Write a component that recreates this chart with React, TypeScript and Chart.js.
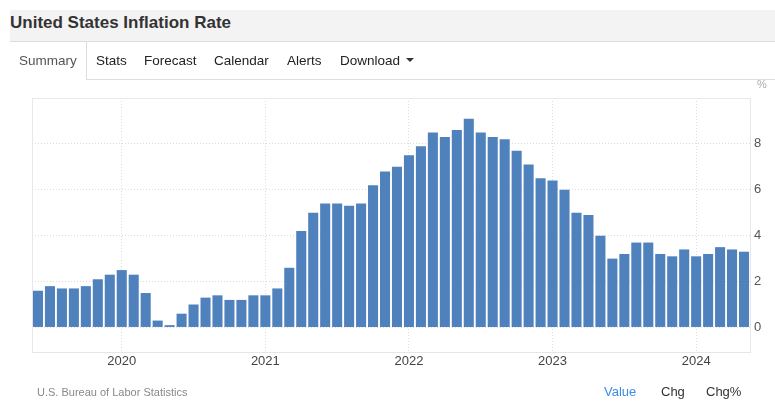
import React, { useEffect, useRef } from 'react';
import { Chart, registerables } from 'chart.js';

Chart.register(...registerables);

const months = [
  'Jun 2019', 'Jul 2019', 'Aug 2019', 'Sep 2019', 'Oct 2019', 'Nov 2019', 'Dec 2019',
  'Jan 2020', 'Feb 2020', 'Mar 2020', 'Apr 2020', 'May 2020', 'Jun 2020', 'Jul 2020', 'Aug 2020', 'Sep 2020', 'Oct 2020', 'Nov 2020', 'Dec 2020',
  'Jan 2021', 'Feb 2021', 'Mar 2021', 'Apr 2021', 'May 2021', 'Jun 2021', 'Jul 2021', 'Aug 2021', 'Sep 2021', 'Oct 2021', 'Nov 2021', 'Dec 2021',
  'Jan 2022', 'Feb 2022', 'Mar 2022', 'Apr 2022', 'May 2022', 'Jun 2022', 'Jul 2022', 'Aug 2022', 'Sep 2022', 'Oct 2022', 'Nov 2022', 'Dec 2022',
  'Jan 2023', 'Feb 2023', 'Mar 2023', 'Apr 2023', 'May 2023', 'Jun 2023', 'Jul 2023', 'Aug 2023', 'Sep 2023', 'Oct 2023', 'Nov 2023', 'Dec 2023',
  'Jan 2024', 'Feb 2024', 'Mar 2024', 'Apr 2024', 'May 2024',
];

const inflation = [
  1.6, 1.8, 1.7, 1.7, 1.8, 2.1, 2.3,
  2.5, 2.3, 1.5, 0.3, 0.1, 0.6, 1.0, 1.3, 1.4, 1.2, 1.2, 1.4,
  1.4, 1.7, 2.6, 4.2, 5.0, 5.4, 5.4, 5.3, 5.4, 6.2, 6.8, 7.0,
  7.5, 7.9, 8.5, 8.3, 8.6, 9.1, 8.5, 8.3, 8.2, 7.7, 7.1, 6.5,
  6.4, 6.0, 5.0, 4.9, 4.0, 3.0, 3.2, 3.7, 3.7, 3.2, 3.1, 3.4,
  3.1, 3.2, 3.5, 3.4, 3.3,
];

const yTickValues = [0, 2, 4, 6, 8, 10];
const yMin = -1.07;
const yMax = 10;

const tabs = ['Summary', 'Stats', 'Forecast', 'Calendar', 'Alerts', 'Download'];
const tabX = [19, 96, 144, 214, 287, 340];
const footerLinks = ['Value', 'Chg', 'Chg%'];
const footerX = [604, 661, 706];

const FONT = "Arial, 'Liberation Sans', Helvetica, sans-serif";

const framePlugin = {
  id: 'frame',
  beforeDatasetsDraw(chart: any) {
    const { ctx, chartArea } = chart;
    const { left, top, right, bottom } = chartArea;
    ctx.save();
    ctx.strokeStyle = '#e8e8e8';
    ctx.lineWidth = 1;
    ctx.beginPath();
    ctx.moveTo(Math.round(left) + 0.5, Math.round(bottom));
    ctx.lineTo(Math.round(left) + 0.5, Math.round(top) + 0.5);
    ctx.lineTo(Math.round(right), Math.round(top) + 0.5);
    ctx.stroke();
    ctx.restore();
  },
};

export default function App() {
  const canvasRef = useRef<HTMLCanvasElement | null>(null);

  useEffect(() => {
    if (!canvasRef.current) return;
    const janIdx = months
      .map((m, i) => (m.startsWith('Jan') ? i : -1))
      .filter((i) => i >= 0);
    const chart = new Chart(canvasRef.current, {
      type: 'bar',
      data: {
        datasets: [
          {
            data: inflation.map((v, i) => ({ x: i, y: v })),
            backgroundColor: '#4f81bd',
            borderWidth: 0,
            barPercentage: 0.84,
            categoryPercentage: 1,
          },
        ],
      },
      options: {
        responsive: false,
        animation: false,
        events: [],
        layout: { padding: { left: 32, top: 98, right: 0, bottom: 29 } },
        plugins: {
          legend: { display: false },
          tooltip: { enabled: false },
          title: { display: false },
        },
        scales: {
          x: {
            type: 'linear',
            offset: false,
            min: -0.5,
            max: months.length - 0.5,
            afterBuildTicks: (scale: any) => {
              scale.ticks = janIdx.map((i) => ({ value: i }));
            },
            afterFit: (scale: any) => {
              scale.height = 20;
            },
            ticks: {
              autoSkip: false,
              maxRotation: 0,
              padding: 2,
              color: '#444',
              font: { family: FONT, size: 13 },
              callback: (v: any) => {
                const m = months[Math.round(Number(v))];
                return m ? m.split(' ')[1] : '';
              },
            },
            grid: {
              offset: false,
              drawTicks: false,
              color: '#dcdcdc',
            },
            border: { display: true, color: '#e6e6e6', dash: [1, 2] },
          },
          y: {
            type: 'linear',
            position: 'right',
            min: yMin,
            max: yMax,
            afterBuildTicks: (scale: any) => {
              scale.ticks = yTickValues.map((v) => ({ value: v }));
            },
            afterFit: (scale: any) => {
              scale.width = 25;
            },
            ticks: {
              padding: 4,
              color: '#555',
              font: { family: FONT, size: 13 },
              callback: (v: any) => (Number(v) === yMax ? '' : String(v)),
            },
            grid: {
              drawTicks: false,
              color: '#dcdcdc',
            },
            border: { display: true, color: '#e6e6e6', dash: [1, 2] },
          },
        },
      },
      plugins: [framePlugin],
    } as any);
    return () => chart.destroy();
  }, []);

  const textBase: React.CSSProperties = {
    position: 'absolute',
    fontFamily: FONT,
    lineHeight: 1,
    whiteSpace: 'nowrap',
  };

  return (
    <div
      style={{
        position: 'fixed',
        left: 0,
        top: 0,
        width: 775,
        height: 401,
        background: '#fff',
        overflow: 'hidden',
      }}
    >
      <canvas
        ref={canvasRef}
        width={775}
        height={401}
        style={{ position: 'absolute', left: 0, top: 0, width: 775, height: 401 }}
      />
      {/* title band */}
      <div
        style={{
          position: 'absolute',
          left: 10,
          top: 10,
          width: 765,
          height: 31,
          background: '#f3f3f3',
          borderBottom: '1px solid #dddddd',
        }}
      />
      <div style={{ ...textBase, left: 10, top: 14, fontSize: 17, fontWeight: 'bold', color: '#333' }}>
        United States Inflation Rate
      </div>
      {/* tabs */}
      <div style={{ position: 'absolute', left: 86, top: 42, width: 1, height: 37, background: '#dddddd' }} />
      <div style={{ position: 'absolute', left: 86, top: 79, width: 689, height: 1, background: '#dddddd' }} />
      {tabs.map((t, i) => (
        <div
          key={t}
          style={{
            ...textBase,
            left: tabX[i],
            top: 54,
            fontSize: 13.5,
            color: i === 0 ? '#555' : '#222',
          }}
        >
          {t}
        </div>
      ))}
      <div
        style={{
          position: 'absolute',
          left: 406,
          top: 58,
          width: 0,
          height: 0,
          borderLeft: '4px solid transparent',
          borderRight: '4px solid transparent',
          borderTop: '4px solid #333',
        }}
      />
      <div style={{ ...textBase, left: 757, top: 79, fontSize: 11, color: '#aaa' }}>%</div>
      {/* footer */}
      <div style={{ ...textBase, left: 37, top: 387, fontSize: 11, color: '#888' }}>
        U.S. Bureau of Labor Statistics
      </div>
      {footerLinks.map((t, i) => (
        <div
          key={t}
          style={{
            ...textBase,
            left: footerX[i],
            top: 385,
            fontSize: 13,
            color: i === 0 ? '#3a8ee6' : '#333',
          }}
        >
          {t}
        </div>
      ))}
    </div>
  );
}
